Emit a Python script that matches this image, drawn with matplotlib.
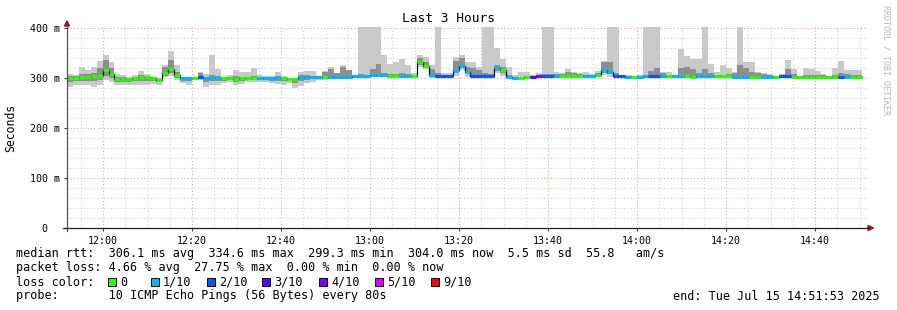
import numpy as np
import matplotlib
matplotlib.use("Agg")
import matplotlib.pyplot as plt
from matplotlib.patches import Rectangle, Polygon
from matplotlib.lines import Line2D

# x axis is minutes after 12:00, one probe every 80 s starting 11:51:53
start_min = -8 - 7 / 60
step_min = 80 / 60
span_min = 180

# median rtt per probe round (ms)
median = [301, 300, 302, 302, 304, 305, 317, 309, 298, 298, 298, 301, 303, 302, 300, 296, 311, 319, 306, 301,
          301, 301, 303, 300, 300, 301, 300, 300, 298, 300, 300, 300, 301, 301, 300, 300, 300, 298, 299, 303,
          303, 303, 302, 302, 302, 302, 303, 303, 305, 305, 305, 306, 306, 306, 305, 305, 305, 305, 305, 333,
          325, 306, 305, 305, 305, 316, 325, 313, 305, 305, 305, 305, 320, 317, 303, 301, 301, 302, 302, 304,
          305, 305, 305, 305, 305, 305, 305, 305, 305, 306, 317, 313, 305, 305, 303, 302, 303, 305, 305, 304,
          304, 305, 305, 305, 305, 303, 305, 305, 305, 305, 305, 305, 303, 303, 303, 303, 303, 303, 303, 302,
          304, 304, 303, 303, 303, 303, 303, 303, 303, 303, 303, 303, 303, 303]
# lost pings out of 10
loss = [0, 0, 0, 0, 0, 0, 0, 0, 0, 0, 0, 0, 0, 0, 0, 0, 0, 0, 0, 1,
        1, 0, 2, 1, 1, 1, 0, 0, 0, 0, 0, 0, 1, 1, 1, 1, 0, 0, 0, 1,
        1, 1, 1, 0, 1, 1, 1, 1, 1, 1, 1, 1, 1, 1, 0, 0, 1, 1, 0, 0,
        0, 1, 2, 2, 2, 1, 1, 1, 2, 2, 2, 2, 1, 0, 1, 1, 0, 0, 3, 4,
        2, 2, 1, 0, 0, 0, 0, 1, 1, 0, 1, 1, 2, 2, 1, 0, 1, 1, 2, 2,
        1, 0, 1, 1, 0, 0, 1, 1, 1, 0, 0, 0, 1, 1, 1, 0, 0, 1, 1, 0,
        2, 2, 0, 0, 0, 0, 0, 0, 0, 0, 2, 1, 0, 0]
# slowest and fastest ping per round (ms)
ping_max = [308, 306, 322, 317, 322, 334, 346, 333, 309, 306, 303, 306, 314, 308, 303, 300, 327, 355, 327, 303,
            303, 303, 313, 308, 346, 319, 301, 306, 316, 313, 313, 321, 306, 305, 305, 313, 305, 300, 299, 313,
            314, 314, 305, 314, 322, 310, 327, 317, 307, 420, 420, 420, 420, 347, 328, 333, 339, 327, 310, 347,
            342, 327, 420, 310, 310, 342, 347, 333, 333, 323, 420, 420, 361, 339, 323, 306, 313, 313, 306, 310,
            420, 420, 312, 310, 319, 313, 310, 312, 308, 315, 335, 420, 420, 307, 306, 305, 306, 420, 420, 420,
            312, 312, 307, 358, 345, 339, 339, 420, 328, 313, 327, 321, 313, 420, 333, 333, 313, 310, 308, 305,
            308, 336, 318, 305, 320, 319, 314, 308, 305, 320, 335, 316, 316, 316]
ping_min = [283, 287, 287, 286, 283, 286, 297, 293, 286, 286, 287, 287, 287, 287, 289, 287, 303, 305, 296, 290,
            287, 297, 297, 283, 287, 287, 290, 293, 286, 289, 293, 293, 293, 293, 290, 289, 287, 290, 281, 285,
            290, 292, 297, 297, 298, 298, 300, 300, 301, 302, 302, 303, 303, 303, 302, 302, 302, 302, 302, 322,
            318, 300, 302, 302, 302, 305, 316, 303, 302, 302, 302, 302, 310, 305, 298, 297, 298, 299, 299, 300,
            302, 302, 302, 302, 302, 302, 302, 302, 302, 302, 306, 303, 302, 302, 300, 299, 300, 302, 302, 301,
            301, 301, 301, 301, 301, 300, 301, 301, 301, 301, 301, 301, 300, 300, 300, 300, 300, 300, 300, 300,
            301, 301, 300, 300, 300, 300, 300, 300, 300, 300, 300, 300, 300, 300]
# middle pings (darker smoke)
mid_hi = [305, 304, 308, 308, 310, 320, 336, 320, 303, 302, 301, 303, 306, 305, 301, 298, 322, 336, 312, 302,
          302, 301, 310, 302, 306, 305, 300, 302, 304, 303, 302, 305, 303, 303, 303, 305, 302, 299, 299, 306,
          306, 305, 304, 312, 318, 310, 322, 316, 306, 308, 306, 318, 328, 310, 308, 308, 310, 308, 307, 340,
          332, 318, 310, 307, 307, 334, 340, 322, 320, 316, 310, 308, 326, 322, 306, 303, 303, 305, 304, 306,
          308, 308, 308, 308, 312, 310, 308, 307, 307, 310, 332, 332, 310, 306, 305, 304, 305, 307, 315, 320,
          310, 306, 306, 320, 323, 318, 310, 318, 310, 307, 307, 308, 310, 326, 320, 313, 310, 308, 306, 305,
          306, 318, 308, 304, 306, 306, 306, 306, 304, 306, 310, 308, 307, 307]
mid_lo = [292, 294, 294, 295, 295, 296, 305, 300, 292, 292, 293, 294, 295, 295, 294, 292, 305, 310, 300, 295,
          294, 299, 299, 292, 294, 295, 295, 296, 292, 295, 296, 296, 296, 296, 295, 295, 294, 294, 291, 295,
          297, 298, 299, 299, 300, 300, 301, 301, 303, 303, 303, 303, 303, 303, 303, 303, 303, 303, 303, 326,
          320, 303, 303, 303, 303, 310, 320, 308, 303, 303, 303, 303, 314, 310, 300, 299, 299, 300, 300, 302,
          303, 303, 303, 303, 303, 303, 303, 303, 303, 303, 310, 308, 303, 303, 301, 300, 301, 303, 303, 302,
          302, 303, 303, 303, 303, 301, 303, 303, 303, 303, 303, 303, 301, 301, 301, 301, 301, 301, 301, 301,
          302, 302, 301, 301, 301, 301, 301, 301, 301, 301, 301, 301, 301, 301]

loss_labels = ["0", "1/10", "2/10", "3/10", "4/10", "5/10", "9/10"]
loss_colors = ["#26ff00", "#00b8ff", "#0059ff", "#5e00ff", "#7e00ff", "#dd00ff", "#ff0000"]

tick_min = [0, 20, 40, 60, 80, 100, 120, 140, 160]
tick_labels = ["12:00", "12:20", "12:40", "13:00", "13:20", "13:40", "14:00", "14:20", "14:40"]
ytick_vals = [0, 100, 200, 300, 400]
ytick_labels = ["0  ", "100 m", "200 m", "300 m", "400 m"]

W, H = 897, 310
mono = "DejaVu Sans Mono"


def fx(px):
    return px / W


def fy(py):
    return 1 - py / H


fig = plt.figure(figsize=(W / 100, H / 100), dpi=100, facecolor="white")
ax = fig.add_axes([fx(67), fy(228), fx(868) - fx(67), fy(27) - fy(228)])

n = len(median)
x = start_min + step_min * np.arange(n)
med = np.array(median, float)

ax.bar(x, np.array(ping_max) - np.array(ping_min), bottom=ping_min, width=step_min,
       align="edge", color="#c9c9c9", linewidth=0, zorder=2)
ax.bar(x, np.array(mid_hi) - np.array(mid_lo), bottom=mid_lo, width=step_min,
       align="edge", color="#8e8e8e", linewidth=0, zorder=3)
ax.step(np.append(x, x[-1] + step_min), np.append(med, med[-1]), where="post",
        color="black", lw=0.9, zorder=4)
col_idx = [min(l, 5) if l < 9 else 6 for l in loss]
ax.hlines(med, x, x + step_min, colors=[loss_colors[i] for i in col_idx],
          lw=2.3, zorder=5, capstyle="butt")

ax.set_xlim(start_min, start_min + span_min)
ax.set_ylim(0, 402)
ax.set_xticks(tick_min)
ax.set_xticks(np.arange(-5, 175, 5), minor=True)
ax.set_yticks(ytick_vals)
ax.set_yticks(np.arange(0, 401, 20), minor=True)
ax.set_xticklabels(tick_labels, fontfamily=mono, fontsize=7.2)
ax.set_yticklabels(ytick_labels, fontfamily=mono, fontsize=7.2)
ax.tick_params(axis="both", which="major", length=2, width=0.8, color="#404040", pad=3)
ax.tick_params(axis="x", which="major", pad=4)
ax.tick_params(which="minor", length=0)
ax.grid(which="minor", color="#d2d2d2", linestyle=(0, (1, 2)), lw=0.8)
ax.grid(which="major", color="#f2a0a0", linestyle=(0, (1, 2)), lw=0.8)
ax.set_axisbelow(True)
for s in ax.spines.values():
    s.set_visible(False)

# axes with arrows, rrdtool style
fig.add_artist(Line2D([fx(67), fx(67)], [fy(231), fy(25)], color="#505050", lw=0.9))
fig.add_artist(Line2D([fx(63), fx(869)], [fy(228), fy(228)], color="#202020", lw=0.9))
fig.add_artist(Polygon([[fx(64.5), fy(26)], [fx(69.5), fy(26)], [fx(67), fy(21)]],
                       closed=True, color="#9a1515", transform=fig.transFigure))
fig.add_artist(Polygon([[fx(868), fy(225.5)], [fx(868), fy(230.5)], [fx(873.5), fy(228)]],
                       closed=True, color="#9a1515", transform=fig.transFigure))

fig.text(fx(448), fy(19), "Last 3 Hours", ha="center", va="center", fontfamily=mono, fontsize=9.3)
fig.text(fx(11), fy(128), "Seconds", ha="center", va="center", rotation=90, fontfamily=mono, fontsize=8.3)
fig.text(fx(886), fy(5), "RRDTOOL / TOBI OETIKER", ha="center", va="top", rotation=270,
         fontfamily=mono, fontsize=6, color="#b8b8b8")

leg = 8.5
fig.text(fx(16), fy(254), "median rtt:  306.1 ms avg  334.6 ms max  299.3 ms min  304.0 ms now  5.5 ms sd  55.8   am/s",
         ha="left", va="center", fontfamily=mono, fontsize=leg)
fig.text(fx(16), fy(268), "packet loss: 4.66 % avg  27.75 % max  0.00 % min  0.00 % now",
         ha="left", va="center", fontfamily=mono, fontsize=leg)
fig.text(fx(16), fy(282), "loss color:", ha="left", va="center", fontfamily=mono, fontsize=leg)
box_x = [108, 151, 207, 262, 319, 375, 431]
for bx, lab, c in zip(box_x, loss_labels, loss_colors):
    fig.add_artist(Rectangle((fx(bx), fy(286)), 8 / W, 8 / H, facecolor=c, edgecolor="black",
                             lw=0.7, transform=fig.transFigure))
    fig.text(fx(bx + 12), fy(282), lab, ha="left", va="center", fontfamily=mono, fontsize=leg)
fig.text(fx(16), fy(296), "probe:       10 ICMP Echo Pings (56 Bytes) every 80s",
         ha="left", va="center", fontfamily=mono, fontsize=leg)
fig.text(fx(880), fy(296), "end: Tue Jul 15 14:51:53 2025", ha="right", va="center",
         fontfamily=mono, fontsize=leg)

fig.savefig("out.png", dpi=100, facecolor="white")
